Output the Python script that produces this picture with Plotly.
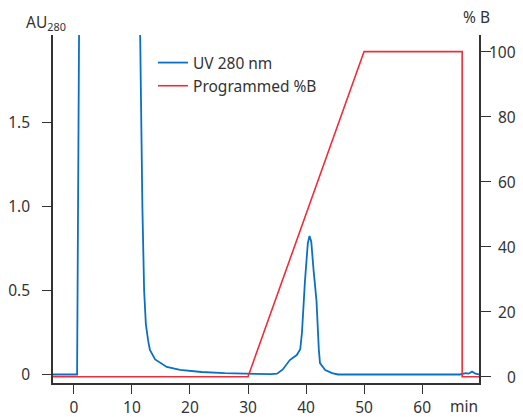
import plotly.graph_objects as go

# UV absorbance trace (AU at 280 nm) versus time (min)
uv_time = [-3.6, 0.0, 0.55, 0.9, 1.2, 11.2, 11.38, 11.5, 11.8, 12.1, 12.4, 12.8, 13.1, 14.0,
           16.0, 18.3, 22.0, 26.0, 30.0, 34.0, 35.0, 36.0, 37.2, 38.4, 39.0, 39.3,
           39.8, 40.3, 40.6, 40.9, 41.3, 41.8, 42.2, 42.4, 43.3, 44.5, 45.5,
           66.5, 67.5, 68.0, 68.6, 69.2, 69.8]
uv_au = [0.0, 0.0, 0.0, 2.1, 2.6, 2.6, 2.1, 1.5, 1.0, 0.5, 0.3, 0.2, 0.146, 0.09,
         0.045, 0.027, 0.015, 0.008, 0.003, 0.002, 0.005, 0.03, 0.086, 0.116, 0.15, 0.25,
         0.55, 0.78, 0.824, 0.79, 0.62, 0.44, 0.15, 0.068, 0.027, 0.008, 0.0,
         0.0, 0.008, 0.005, 0.017, 0.005, 0.0]

# Programmed gradient (% B) versus time (min)
grad_time = [-3.6, 30.0, 50.0, 66.9, 66.9, 69.8]
grad_pct_b = [0, 0, 100, 100, 0, 0]

x_ticks = [0, 10, 20, 30, 40, 50, 60]
au_ticks = [0, 0.5, 1.0, 1.5]
au_tick_labels = ["0", "0.5", "1.0", "1.5"]
pct_ticks = [0, 20, 40, 60, 80, 100]

BLUE = "#0a70c4"
RED = "#ee2d3a"
INK = "#333333"
FONT = "Noto Sans"
FS = 15.5

W, H = 523, 417
ML, MR, MT, MB = 53, 44, 35, 34
PLOT_W = W - ML - MR
PLOT_H = H - MT - MB


def px_to_paper_x(px):
    return (px - ML) / PLOT_W


def px_to_paper_y(py):
    return (H - MB - py) / PLOT_H


fig = go.Figure()
fig.add_trace(go.Scatter(x=uv_time, y=uv_au, mode="lines", name="UV 280 nm",
                         line=dict(color=BLUE, width=1.8), yaxis="y"))
fig.add_trace(go.Scatter(x=grad_time, y=grad_pct_b, mode="lines", name="Programmed %B",
                         line=dict(color=RED, width=1.6), yaxis="y2"))


def axis_style(ticklen=9):
    return dict(showgrid=False, zeroline=False, showline=True, linecolor=INK,
                linewidth=1.6, ticks="outside", ticklen=ticklen, tickwidth=1.4,
                tickcolor=INK, automargin=False,
                tickfont=dict(family=FONT, size=FS, color=INK))


# Right-hand %B tick labels, right-aligned next to the tick marks
pct_labels = [
    dict(text=str(v), xref="paper", yref="y2", x=px_to_paper_x(518), y=v,
         xanchor="right", yanchor="middle", showarrow=False,
         font=dict(family=FONT, size=FS, color=INK))
    for v in pct_ticks
]

fig.update_layout(
    width=W, height=H,
    margin=dict(l=ML, r=MR, t=MT, b=MB, autoexpand=False),
    plot_bgcolor="white", paper_bgcolor="white",
    font=dict(family=FONT, size=FS, color=INK),
    xaxis=dict(range=[-3.6, 69.8], tickvals=x_ticks, ticklabelstandoff=1, **axis_style()),
    yaxis=dict(range=[-0.0506, 2.021], tickvals=au_ticks, ticktext=au_tick_labels,
               ticklabelstandoff=9, **axis_style()),
    yaxis2=dict(range=[-1.94, 105.1], tickvals=pct_ticks, overlaying="y", side="right",
                showticklabels=False, **axis_style(10)),
    showlegend=True,
    legend=dict(x=px_to_paper_x(153), y=px_to_paper_y(46), xanchor="left", yanchor="top",
                bgcolor="rgba(0,0,0,0)",
                font=dict(family=FONT, size=FS, color=INK), itemwidth=30,
                tracegroupgap=0),
    annotations=pct_labels + [
        dict(text="AU<sub>280</sub>", xref="paper", yref="paper", x=px_to_paper_x(68),
             y=px_to_paper_y(23), xanchor="right", yanchor="middle", showarrow=False,
             font=dict(family=FONT, size=FS, color=INK)),
        dict(text="% B", xref="paper", yref="paper", x=px_to_paper_x(476),
             y=px_to_paper_y(17), xanchor="center", yanchor="middle", showarrow=False,
             font=dict(family=FONT, size=FS, color=INK)),
        dict(text="min", xref="paper", yref="paper", x=px_to_paper_x(464),
             y=px_to_paper_y(406), xanchor="center", yanchor="middle", showarrow=False,
             font=dict(family=FONT, size=FS, color=INK)),
    ],
)

fig.write_html("out.html")
